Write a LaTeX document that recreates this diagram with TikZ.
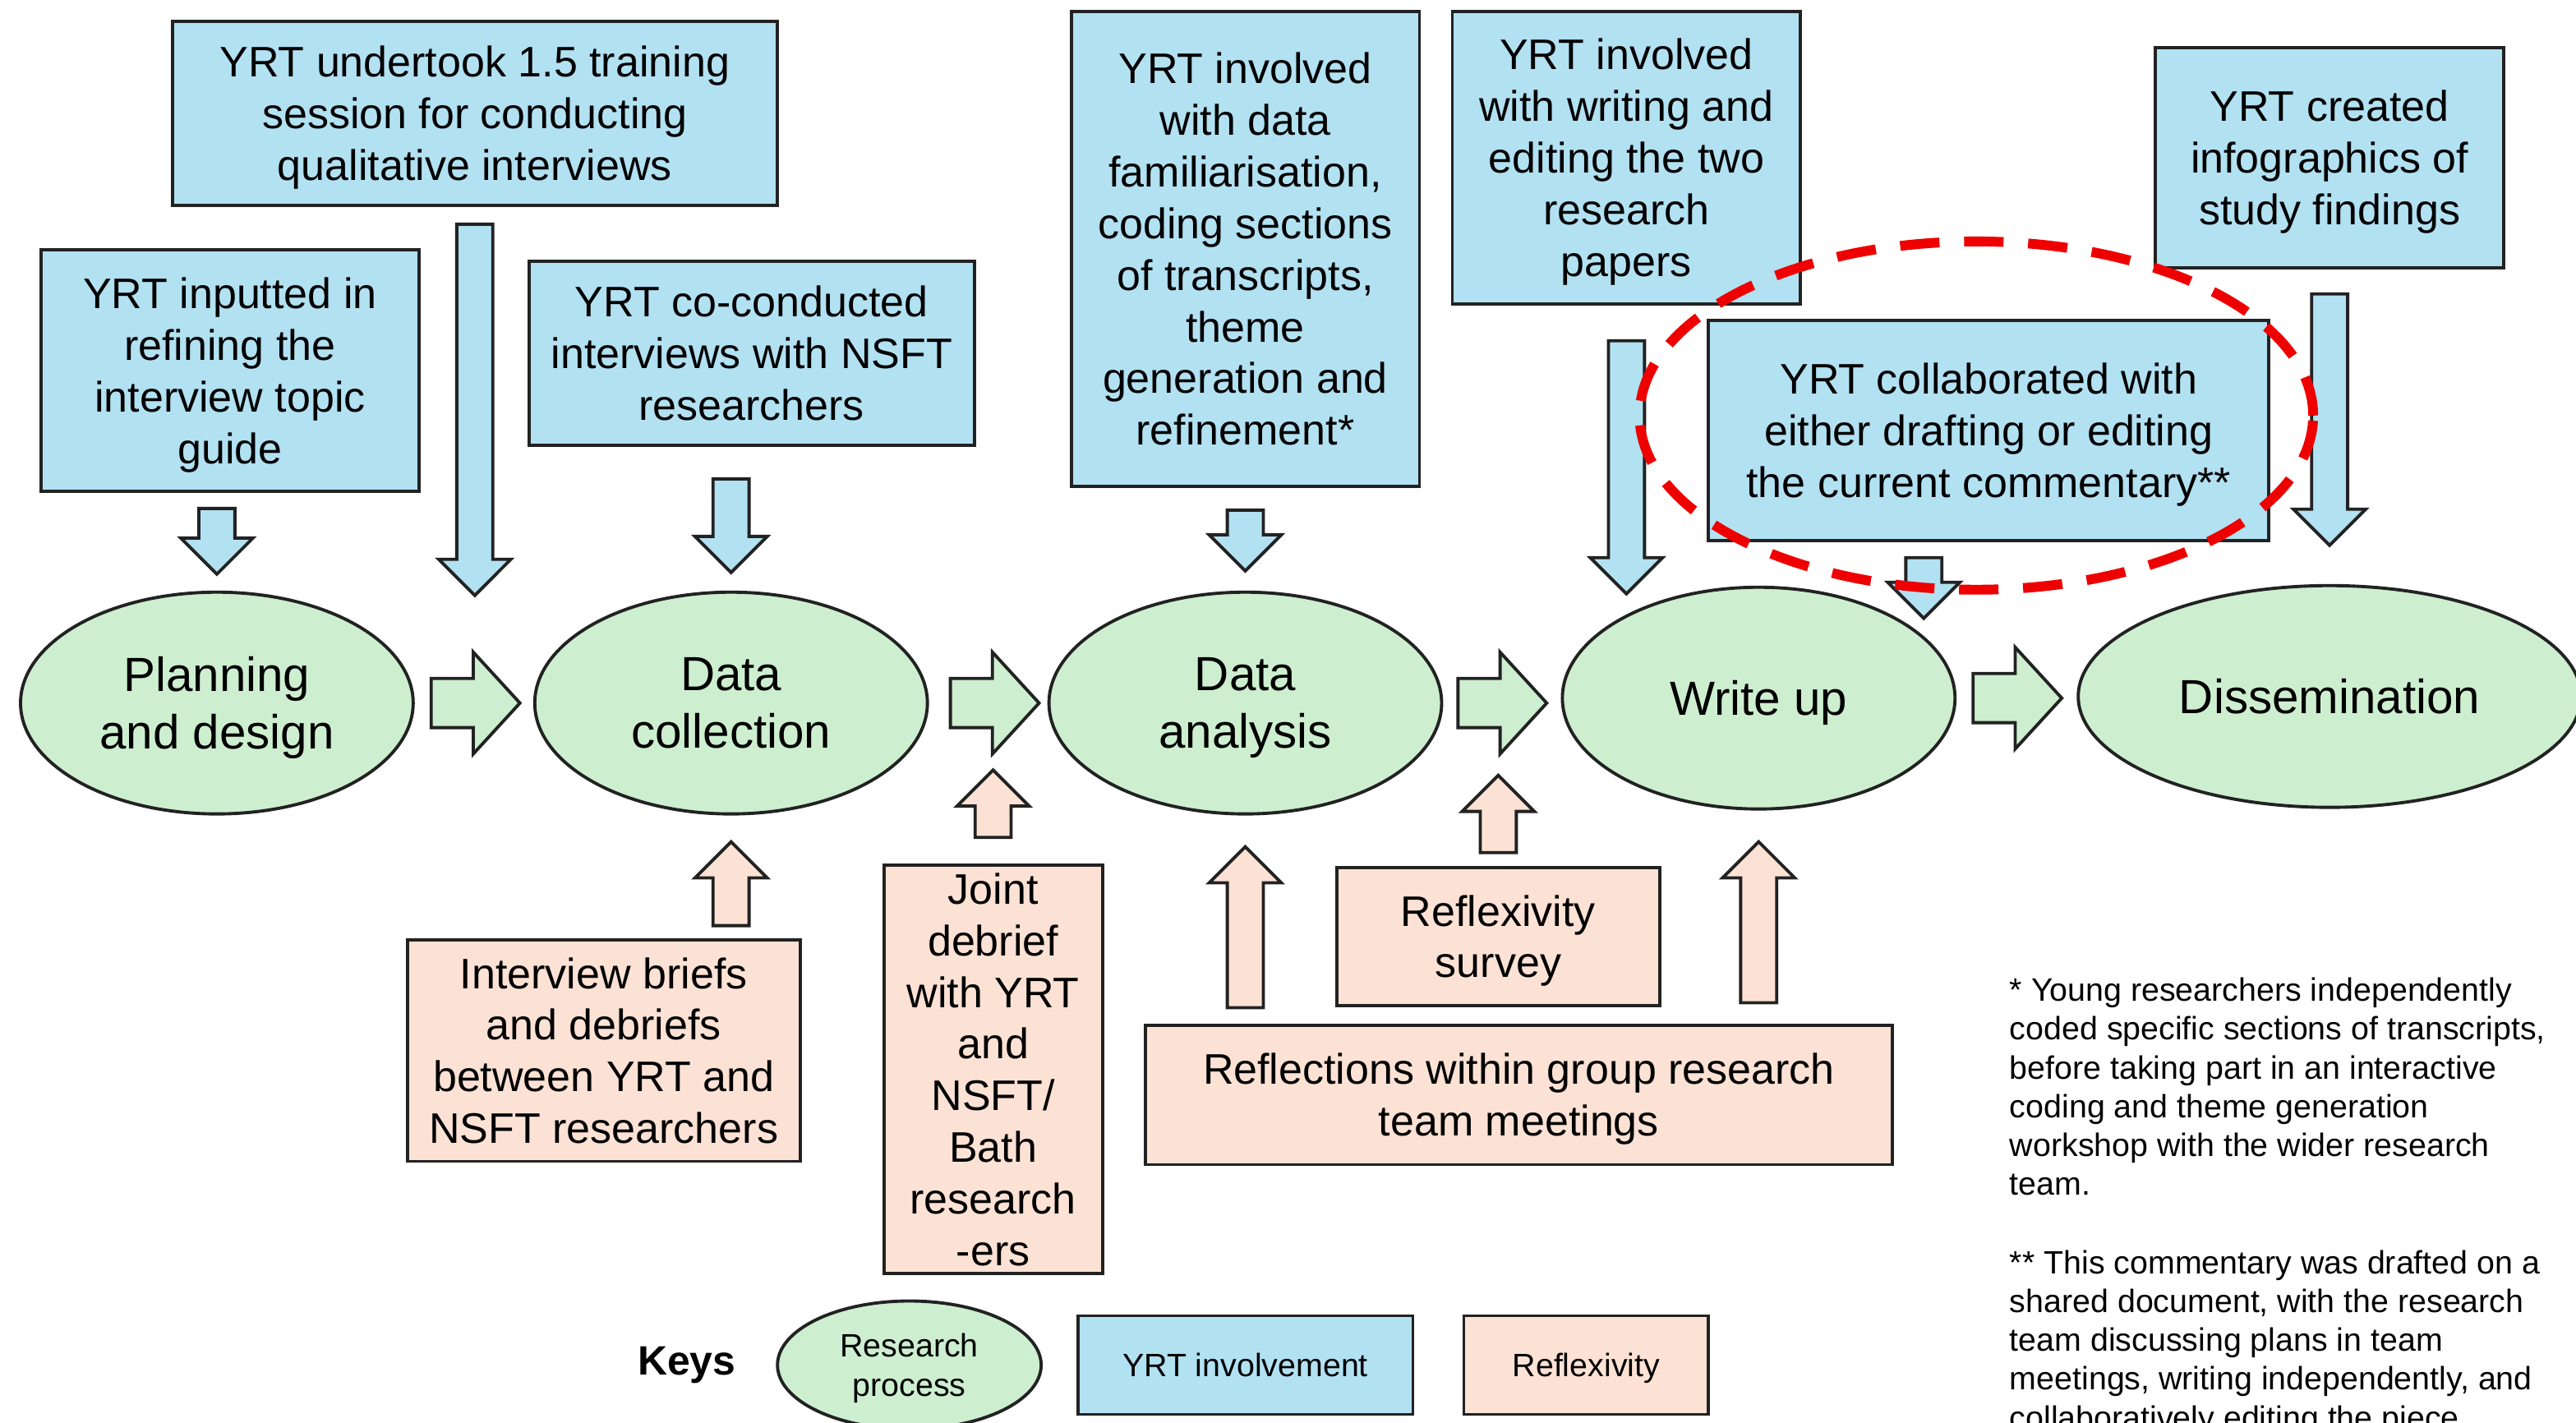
\documentclass[tikz,border=0pt]{standalone}
\usepackage{fontspec}
\setmainfont{Liberation Sans}
\usepackage{tikz}
\usetikzlibrary{arrows.meta, positioning, calc, shapes.geometric, shapes.arrows}
\definecolor{yrtblue}{HTML}{B2E1F2}
\definecolor{procgreen}{HTML}{CDEFD0}
\definecolor{reflpeach}{HTML}{FCE2D4}
\definecolor{edge}{HTML}{222222}
\definecolor{markred}{HTML}{EE0000}
\newcommand{\yrtfont}{\fontsize{14.8}{17.9}\selectfont}
\newcommand{\procfont}{\fontsize{16.6}{19.9}\selectfont}
\newcommand{\keyfont}{\fontsize{11.2}{13.7}\selectfont}
\newcommand{\notefont}{\fontsize{11.2}{13.4}\selectfont}

\begin{document}
\begin{tikzpicture}[
    yrt/.style={draw=edge, line width=1.1pt, fill=yrtblue, align=center, font=\yrtfont, inner sep=0pt, text depth=0pt},
    refl/.style={draw=edge, line width=1.1pt, fill=reflpeach, align=center, font=\yrtfont, inner sep=0pt, text depth=0pt},
    proc/.style={ellipse, draw=edge, line width=1.1pt, fill=procgreen, align=center, font=\procfont, inner sep=0pt, text depth=0pt, minimum width=4.78cm, minimum height=2.7cm},
    vblock/.style={single arrow, draw=edge, line width=1.1pt, fill=#1, inner xsep=0pt, inner ysep=0.2cm, outer sep=0pt, single arrow head extend=0.22cm, single arrow tip angle=90},
    downarr/.style={vblock=yrtblue, rotate=-90},
    uparr/.style={vblock=reflpeach, rotate=90},
    hblock/.style={single arrow, draw=edge, line width=1.1pt, fill=procgreen, inner xsep=0pt, inner ysep=0.28cm, outer sep=0pt, single arrow head extend=0.32cm, single arrow tip angle=95, minimum height=1.08cm, anchor=tail},
    fnote/.style={anchor=north west, align=left, font=\notefont, inner sep=0pt},
]
    \useasboundingbox (0,0) rectangle (31.36,17.32);

    % YRT involvement boxes
    \node[yrt, minimum width=7.36cm, minimum height=2.24cm] (train) at (5.78, 15.94) {YRT undertook 1.5 training\\session for conducting\\qualitative interviews};
    \node[yrt, minimum width=4.60cm, minimum height=2.94cm] (topic) at (2.80, 12.81) {YRT inputted in\\refining the\\interview topic\\guide};
    \node[yrt, minimum width=5.42cm, minimum height=2.24cm] (cocond) at (9.15, 13.02) {YRT co-conducted\\interviews with NSFT\\researchers};
    \node[yrt, minimum width=4.24cm, minimum height=5.78cm] (coding) at (15.16, 14.29) {YRT involved\\with data\\familiarisation,\\coding sections\\of transcripts,\\theme\\generation and\\refinement*};
    \node[yrt, minimum width=4.24cm, minimum height=3.56cm] (papers) at (19.80, 15.40) {YRT involved\\with writing and\\editing the two\\research\\papers};
    \node[yrt, minimum width=6.82cm, minimum height=2.68cm] (comment) at (24.21, 12.08) {YRT collaborated with\\either drafting or editing\\the current commentary**};
    \node[yrt, minimum width=4.24cm, minimum height=2.68cm] (infog) at (28.36, 15.40) {YRT created\\infographics of\\study findings};

    % Research process
    \node[proc] (plan) at (2.64, 8.76) {Planning\\and design};
    \node[proc] (coll) at (8.90, 8.76) {Data\\collection};
    \node[proc] (anal) at (15.16, 8.76) {Data\\analysis};
    \node[proc] (wrt) at (21.41, 8.82) {Write up};
    \node[proc, minimum width=6.12cm] (dis) at (28.36, 8.84) {Dissemination};

    \node[hblock] (r1) at ($(plan.east)+(0.20,0)$) {};
    \node[hblock] (r2) at ($(coll.east)+(0.26,0)$) {};
    \node[hblock] (r3) at ($(anal.east)+(0.18,0)$) {};
    \node[hblock] (r4) at ($(wrt.east)+(0.20,0)$) {};

    % Reflexivity boxes
    \node[refl, minimum width=4.78cm, minimum height=2.70cm] (briefs) at (7.35, 4.53) {Interview briefs\\and debriefs\\between YRT and\\NSFT researchers};
    \node[refl, minimum width=2.66cm, minimum height=4.97cm] (joint) at (12.09, 4.30) {Joint\\debrief\\with YRT\\and\\NSFT/\\Bath\\research\\-ers};
    \node[refl, minimum width=3.93cm, minimum height=1.68cm] (survey) at (18.24, 5.92) {Reflexivity\\survey};
    \node[refl, minimum width=9.10cm, minimum height=1.70cm] (reflect) at (18.49, 3.99) {Reflections within group research\\team meetings};

    % Arrows down
    \node[downarr, minimum height=0.80cm, anchor=tip] (d1) at ($(plan.north)+(0,0.20)$) {};
    \node[downarr, minimum height=4.52cm, anchor=tail] (d2) at ($(train.south)+(0,-0.21)$) {};
    \node[downarr, minimum height=1.14cm, anchor=tip] (d3) at ($(coll.north)+(0,0.22)$) {};
    \node[downarr, minimum height=0.74cm, anchor=tip] (d4) at ($(anal.north)+(0,0.24)$) {};
    \node[downarr, minimum height=3.08cm, anchor=tail] (d5) at ($(papers.south)+(0,-0.43)$) {};
    \node[downarr, minimum height=0.74cm, anchor=tail] (d6) at ($(comment.south)+(-0.79,-0.19)$) {};
    \node[downarr, minimum height=3.06cm, anchor=tail] (d7) at ($(infog.south)+(0,-0.30)$) {};

    % Arrows up
    \node[uparr, minimum height=1.02cm, anchor=tip] (u1) at ($(coll.south)+(0,-0.32)$) {};
    \node[uparr, minimum height=0.82cm, anchor=tail] (u2) at ($(joint.north)+(0,0.32)$) {};
    \node[uparr, minimum height=1.96cm, anchor=tip] (u3) at ($(anal.south)+(0,-0.38)$) {};
    \node[uparr, minimum height=0.94cm, anchor=tail] (u4) at ($(survey.north)+(0,0.16)$) {};
    \node[uparr, minimum height=1.96cm, anchor=tip] (u5) at ($(wrt.south)+(0,-0.38)$) {};

    % Keys
    \node[font=\fontsize{14.2}{17}\selectfont\bfseries] (keys) at (8.36, 0.70) {Keys};
    \node[proc, font=\keyfont, minimum width=3.21cm, minimum height=1.56cm] (kproc) at (11.07, 0.70) {Research\\process};
    \node[yrt, font=\keyfont, minimum width=4.08cm, minimum height=1.20cm] (kyrt) at (15.16, 0.70) {YRT involvement};
    \node[refl, font=\keyfont, minimum width=2.98cm, minimum height=1.20cm] (krefl) at (19.31, 0.70) {Reflexivity};

    % Footnotes
    \node[fnote] (n1) at (24.46, 5.42) {* Young researchers independently\\coded specific sections of transcripts,\\before taking part in an interactive\\coding and theme generation\\workshop with the wider research\\team.};
    \node[fnote] (n2) at (24.46, 2.10) {** This commentary was drafted on a\\shared document, with the research\\team discussing plans in team\\meetings, writing independently, and\\collaboratively editing the piece};

    % Highlight
    \node[ellipse, draw=markred, line width=3.4pt, dash pattern=on 0.48cm off 0.3cm, minimum width=8.2cm, minimum height=4.24cm, inner sep=0pt] (hl) at ($(comment.center)+(-0.15,0.18)$) {};
\end{tikzpicture}
\end{document}
